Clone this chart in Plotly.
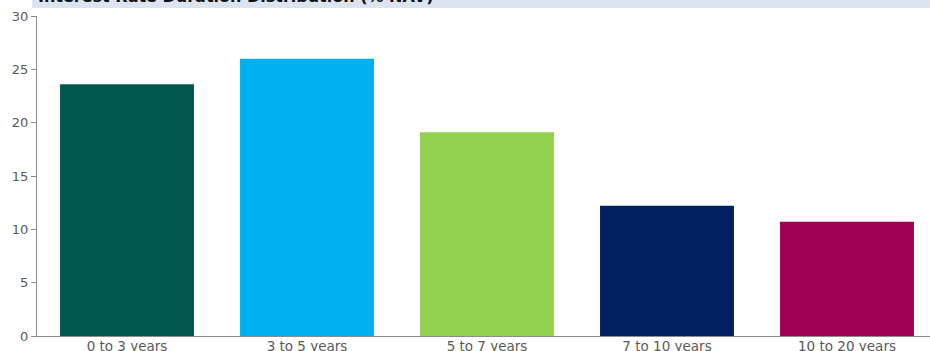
import plotly.graph_objects as go

categories = ["0 to 3 years", "3 to 5 years", "5 to 7 years", "7 to 10 years", "10 to 20 years"]
values = [23.6, 26.0, 19.1, 12.2, 10.7]
colors = ["#00574b", "#00b0f0", "#92d050", "#002060", "#a00054"]
y_ticks = [0, 5, 10, 15, 20, 25, 30]
title_text = "Interest Rate Duration Distribution (% NAV)"

W, H = 930, 351
L, R, T, B = 37, 0, 16, 15
plot_w = W - L - R
plot_h = H - T - B

fig = go.Figure(go.Bar(
    x=list(range(len(categories))),
    y=values,
    marker=dict(color=colors, line=dict(width=0)),
    hoverinfo="skip",
))

cat_px = 180.0
x_span = plot_w / cat_px

fig.update_layout(
    width=W, height=H,
    margin=dict(l=L, r=R, t=T, b=B, pad=0),
    paper_bgcolor="white", plot_bgcolor="white",
    bargap=0.256,
    showlegend=False,
    font=dict(family="DejaVu Sans", size=12, color="#595959"),
    xaxis=dict(
        range=[-0.5, -0.5 + x_span],
        tickmode="array",
        tickvals=list(range(len(categories))),
        ticktext=categories,
        showgrid=False, zeroline=False,
        showline=True, linecolor="#8c8c8c", linewidth=1,
        ticks="", ticklabelstandoff=-2,
        tickfont=dict(size=13.5, color="#595959"),
        automargin=False,
        fixedrange=True,
    ),
    yaxis=dict(
        range=[0, 30],
        tickmode="array", tickvals=y_ticks,
        showgrid=False, zeroline=False,
        showline=True, linecolor="#8c8c8c", linewidth=1,
        ticks="outside", ticklen=5, tickcolor="#8c8c8c",
        tickfont=dict(size=13, color="#595959"),
        automargin=False,
        fixedrange=True,
    ),
    shapes=[dict(
        type="rect", xref="paper", yref="paper",
        x0=(32 - L) / plot_w, x1=1.0,
        y0=1 + (T - 8) / plot_h, y1=1 + (T + 10) / plot_h,
        fillcolor="#dbe5f0", line=dict(width=0), layer="below",
    )],
    annotations=[dict(
        text="<b>" + title_text + "</b>",
        xref="paper", yref="paper",
        x=(36 - L) / plot_w, y=1 + (T + 4) / plot_h,
        xanchor="left", yanchor="middle",
        showarrow=False,
        font=dict(family="DejaVu Sans", size=16, color="#111111"),
    )],
)

fig.write_html("out.html")
